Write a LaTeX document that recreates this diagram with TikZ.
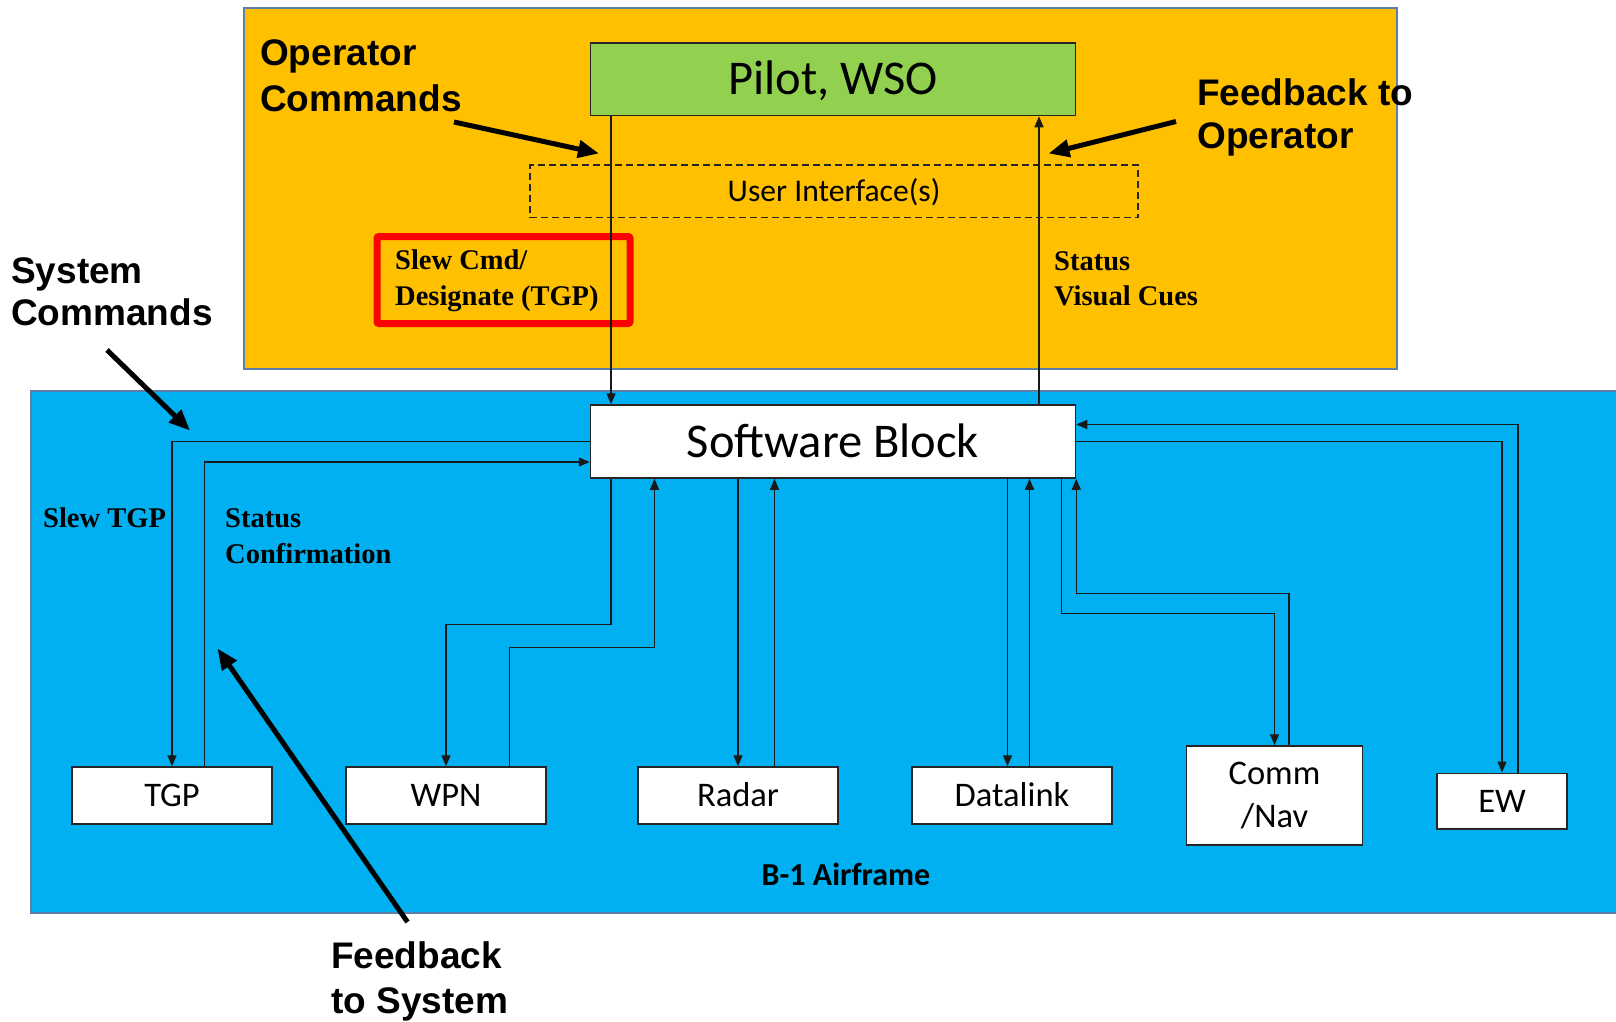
\documentclass[tikz,border=0pt]{standalone}
\usepackage{fontspec}
\setmainfont{Liberation Serif}
\newfontfamily\arlfont{Liberation Sans}
\newfontfamily\calfont{Carlito}
\usetikzlibrary{arrows.meta}
\definecolor{orgfill}{HTML}{FFC000}
\definecolor{bluefill}{HTML}{00B0F0}
\definecolor{greenfill}{HTML}{92D050}
\definecolor{frameline}{HTML}{5B7FA8}
\definecolor{hlred}{HTML}{FF0000}
\begin{document}
\begin{tikzpicture}[x=1pt,y=-1pt,
  conn/.style={line width=1.3pt, draw=black!90, -{Triangle[length=11pt,width=9pt]}},
  callout/.style={line width=5pt, draw=black, -{Triangle[length=21pt,width=17pt]}},
  sysbox/.style={draw=black!85, line width=1.5pt, fill=white, inner sep=0pt,
    minimum width=200pt, minimum height=57pt,
    font=\calfont\fontsize{34.5}{43.7}\selectfont, text height=22.2pt, text depth=0pt},
  bigbox/.style={draw=black!85, line width=1.5pt, inner sep=0pt,
    minimum width=485pt, minimum height=73pt,
    font=\calfont\fontsize{48.5}{58}\selectfont, text height=31.2pt, text depth=0pt},
  callabel/.style={anchor=base west, inner sep=0pt, align=left,
    font=\arlfont\bfseries\fontsize{37}{46}\selectfont},
  serlabel/.style={anchor=base west, inner sep=0pt, align=left,
    font=\bfseries\fontsize{28.5}{35.5}\selectfont},
  region/.style={line width=2pt, draw=frameline}
]
\clip (0,0) rectangle (1616,1021);
\fill[white] (0,0) rectangle (1616,1021);

% regions
\node[region, fill=orgfill, minimum width=1153pt, minimum height=361pt, inner sep=0pt] (crew) at (820,188.5) {};
\node[region, fill=bluefill, minimum width=1620pt, minimum height=522pt, inner sep=0pt] (frame) at (841,652) {};

% top boxes
\node[bigbox, fill=greenfill, minimum height=72.5pt] (pilot) at (833,79.25) {Pilot, WSO};
\node[draw=black!85, line width=1.2pt, dash pattern=on 7pt off 4pt, inner sep=0pt,
      minimum width=608pt, minimum height=52.5pt,
      font=\calfont\fontsize{31.6}{38}\selectfont, text height=20.3pt, text depth=0pt] (ui) at (834,191.25) {User Interface(s)};

% highlight box and text (anchor = baseline of last line)
\node[draw=hlred, line width=7pt, rounded corners=2pt, minimum width=253pt, minimum height=87pt, inner sep=0pt] (hl) at (503.5,280) {};
\node[serlabel] (slewcmd) at (395,305) {Slew Cmd/\\Designate (TGP)};
\node[serlabel] (statusvc) at (1054,305.5) {Status\\Visual Cues};

% software block
\node[bigbox, fill=white] (sw) at (833,441.5) {Software Block};

% subsystem boxes
\node[sysbox] (tgp) at (172,795.5) {TGP};
\node[sysbox] (wpn) at (446,795.5) {WPN};
\node[sysbox] (radar) at (738,795.5) {Radar};
\node[sysbox] (datalink) at (1012,795.5) {Datalink};
\node[sysbox, minimum width=176pt, minimum height=99pt, align=center, text height={}, text depth={}] (comm) at (1274.5,795.5) {Comm\\/Nav};
\node[sysbox, minimum width=130pt, minimum height=55.5pt] (ew) at (1502,801) {EW};

\node[anchor=base, inner sep=0pt, font=\calfont\bfseries\fontsize{32}{38}\selectfont] (airframe) at (846,885.5) {B-1 Airframe};

% serif labels in blue region
\node[serlabel] (slewtgp) at (43,527) {Slew TGP};
\node[serlabel] (statconf) at (225,563) {Status\\Confirmation};

% callout labels (anchor = baseline of last line)
\node[callabel] (opcmd) at (260,111) {Operator\\Commands};
\node[callabel, font=\arlfont\bfseries\fontsize{37}{43}\selectfont] (fbop) at (1197,148) {Feedback to\\Operator};
\node[callabel, font=\arlfont\bfseries\fontsize{37}{42}\selectfont] (syscmd) at (11,325) {System\\Commands};
\node[callabel, font=\arlfont\bfseries\fontsize{37}{45}\selectfont] (fbsys) at (331,1013) {Feedback\\to System};

% callout arrows
\coordinate (opcmdA) at (454,122);
\coordinate (opcmdB) at (599,153.5);
\coordinate (fbopA) at (1176,121.5);
\coordinate (fbopB) at (1048.5,153.5);
\coordinate (syscmdA) at (107,350);
\coordinate (syscmdB) at (190,430.5);
\coordinate (fbsysA) at (407.5,922);
\coordinate (fbsysB) at (217.5,648.5);
\draw[callout] (opcmdA) -- (opcmdB);
\draw[callout] (fbopA) -- (fbopB);
\draw[callout] (syscmdA) -- (syscmdB);
\draw[callout] (fbsysA) -- (fbsysB);

% operator <-> software
\draw[conn] ([xshift=-222pt]pilot.south) -- ([xshift=-222pt]sw.north);
\draw[conn] ([xshift=206pt]sw.north) -- ([xshift=206pt]pilot.south);

% TGP
\draw[conn] (sw.west) -| (tgp.north);
\draw[conn] ([xshift=32.5pt]tgp.north) |- ([yshift=-20.5pt]sw.west);
% WPN
\draw[conn] ([xshift=-222pt]sw.south) -- ++(0,145.5) -| (wpn.north);
\draw[conn] ([xshift=63.5pt]wpn.north) -- ++(0,-119) -| ([xshift=-178.5pt]sw.south);
% Radar
\draw[conn] (radar.north |- sw.south) -- (radar.north);
\draw[conn] ([xshift=36.5pt]radar.north) -- ([xshift=-58.5pt]sw.south);
% Datalink
\draw[conn] ([xshift=174.5pt]sw.south) -- ([xshift=-4.5pt]datalink.north);
\draw[conn] ([xshift=17.5pt]datalink.north) -- ([xshift=196.5pt]sw.south);
% Comm/Nav
\draw[conn] ([xshift=228.5pt]sw.south) -- ++(0,134.5) -| (comm.north);
\draw[conn] ([xshift=14.5pt]comm.north) -- ++(0,-152) -| (sw.south east);
% EW
\draw[conn] (sw.east) -| (ew.north);
\draw[conn] ([xshift=16pt]ew.north) |- ([yshift=17pt]sw.east);
\end{tikzpicture}
\end{document}
